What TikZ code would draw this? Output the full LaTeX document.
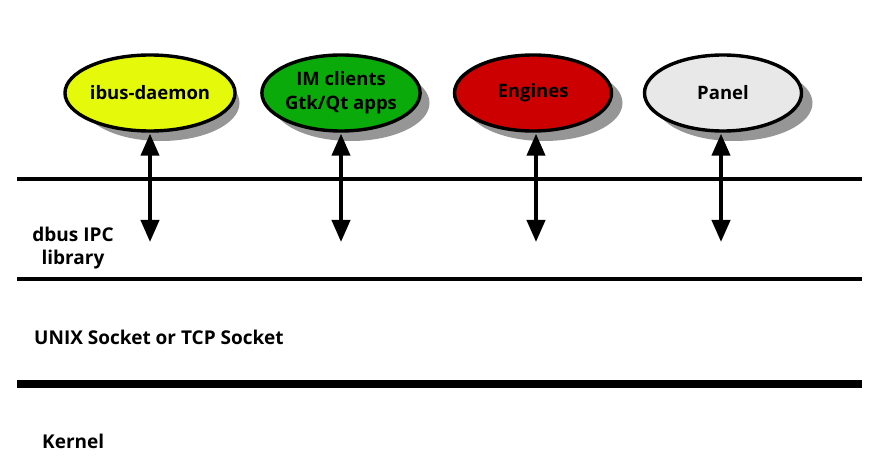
\documentclass[tikz,border=0pt]{standalone}
\usepackage{fontspec}
\setmainfont{Open Sans}
\usetikzlibrary{shapes.geometric,arrows.meta}
\definecolor{cyel}{RGB}{228,250,10}
\definecolor{cgrn}{RGB}{10,170,10}
\definecolor{cred}{RGB}{205,0,0}
\definecolor{cgry}{RGB}{232,232,232}
\definecolor{cshd}{RGB}{150,150,150}
\begin{document}
\begin{tikzpicture}[x=1pt,y=-1pt,
  comp/.style={ellipse,draw=black,line width=3.4pt,minimum width=157pt,minimum height=76pt,inner sep=0pt,font=\bfseries\fontsize{18.5}{24}\selectfont,align=center},
  shd/.style={ellipse,fill=cshd,minimum width=157pt,minimum height=76pt,inner sep=0pt},
  layer/.style={line width=3.6pt},
  link/.style={line width=4pt,{Triangle[length=22pt,width=18pt]}-{Triangle[length=22pt,width=18pt]}},
  lbl/.style={font=\bfseries\fontsize{19}{23}\selectfont}]
\useasboundingbox (0,0) rectangle (888,462);
\fill[white] (0,0) rectangle (888,462);
% shadows
\foreach \x in {150,340,533,723}{\node[shd] at (\x+11,103) {};}
\node[comp,fill=cyel] (d) at (150,93) {ibus-daemon};
\node[comp,fill=cgrn] (c) at (341,93) {IM clients\\Gtk/Qt apps};
\node[comp,fill=cred] (e) at (533,93) {Engines};
\node[comp,fill=cgry] (p) at (723,93) {Panel};
% layers
\coordinate (l1a) at (17,179); \coordinate (l1b) at (862,179);
\coordinate (l2a) at (17,279); \coordinate (l2b) at (862,279);
\coordinate (l3a) at (17,384); \coordinate (l3b) at (862,384);
\draw[layer] (l1a) -- (l1b);
\draw[layer] (l2a) -- (l2b);
\draw[line width=8pt] (l3a) -- (l3b);
% arrows
\coordinate (dt) at (150,242);
\coordinate (ct) at (341,242);
\coordinate (et) at (536,242);
\coordinate (pt) at (721,242);
\draw[link] ([yshift=-1pt]d.south) -- (dt);
\draw[link] ([yshift=-1pt]c.south) -- (ct);
\draw[link] ([xshift=3pt,yshift=-1pt]e.south) -- (et);
\draw[link] ([xshift=-2pt,yshift=-1pt]p.south) -- (pt);
% labels
\node[lbl,align=center] (t1) at (73,248) {dbus IPC\\library};
\node[lbl,anchor=west,inner sep=0pt] (t2) at (34,337) {UNIX Socket or TCP Socket};
\node[lbl,anchor=west,inner sep=0pt] (t3) at (42,441) {Kernel};
\end{tikzpicture}
\end{document}
